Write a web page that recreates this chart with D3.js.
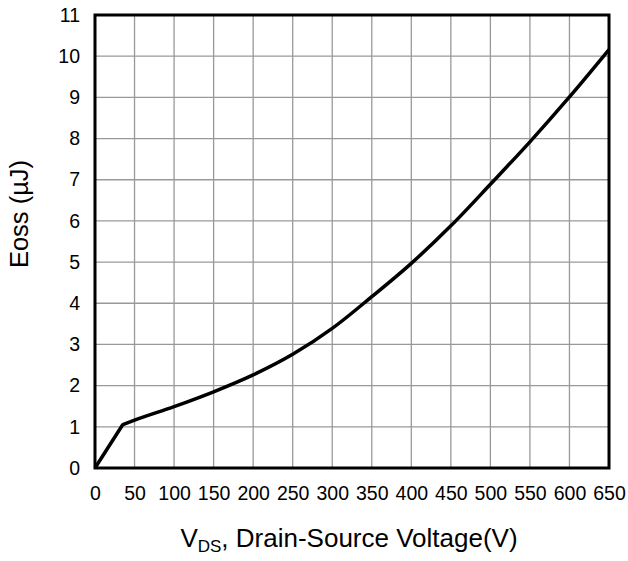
<!DOCTYPE html>
<html>
<head>
<meta charset="utf-8">
<script src="https://cdn.jsdelivr.net/npm/d3@7"></script>
<style>
  html, body { margin: 0; padding: 0; background: #fff; }
  svg { display: block; font-family: "Liberation Sans", Arial, sans-serif; }
</style>
</head>
<body>
<svg id="chart" width="628" height="561"></svg>
<script>
const voltage = [0, 35, 50, 100, 150, 200, 250, 300, 350, 400, 450, 500, 550, 600, 650];
const eoss    = [0, 1.05, 1.16, 1.49, 1.85, 2.26, 2.76, 3.39, 4.16, 4.97, 5.88, 6.89, 7.92, 9.01, 10.16];
const xTicks = [0, 50, 100, 150, 200, 250, 300, 350, 400, 450, 500, 550, 600, 650];
const yTicks = [0, 1, 2, 3, 4, 5, 6, 7, 8, 9, 10, 11];

(function () {
const svg = d3.select("#chart");
const mL = 95, mR = 609, mT = 15, mB = 468;

const x = d3.scaleLinear().domain([0, 650]).range([mL, mR]);
const y = d3.scaleLinear().domain([0, 11]).range([mB, mT]);

// grid
const grid = svg.append("g").attr("stroke", "#999").attr("stroke-width", 1.3);
grid.selectAll("line.v").data(xTicks).join("line").attr("class", "v")
  .attr("x1", d => x(d)).attr("x2", d => x(d))
  .attr("y1", mT).attr("y2", mB);
grid.selectAll("line.h").data(yTicks).join("line").attr("class", "h")
  .attr("x1", mL).attr("x2", mR)
  .attr("y1", d => y(d)).attr("y2", d => y(d));

// curve: straight rise to the knee, smooth afterwards
const pts = voltage.map((v, i) => [v, eoss[i]]);
const lin = d3.line().x(d => x(d[0])).y(d => y(d[1]));
const smooth = d3.line().x(d => x(d[0])).y(d => y(d[1])).curve(d3.curveMonotoneX);
const dPath = lin(pts.slice(0, 2)) + smooth(pts.slice(1)).replace(/^M/, "L");
svg.append("path")
  .attr("fill", "none")
  .attr("stroke", "#000")
  .attr("stroke-width", 3.5)
  .attr("stroke-linejoin", "round")
  .attr("d", dPath);

// frame
svg.append("rect")
  .attr("x", mL).attr("y", mT)
  .attr("width", mR - mL).attr("height", mB - mT)
  .attr("fill", "none").attr("stroke", "#000").attr("stroke-width", 3);

// axes (labels only)
const xAxis = svg.append("g").attr("transform", `translate(0,${mB})`)
  .call(d3.axisBottom(x).tickValues(xTicks).tickSize(0).tickPadding(18));
xAxis.select(".domain").remove();
xAxis.selectAll("text").attr("font-size", 19.5).attr("fill", "#000")
  .attr("font-family", "Liberation Sans, Arial, sans-serif");

const yAxis = svg.append("g").attr("transform", `translate(${mL},0)`)
  .call(d3.axisLeft(y).tickValues(yTicks).tickSize(0).tickPadding(15));
yAxis.select(".domain").remove();
yAxis.selectAll("text").attr("font-size", 19.5).attr("fill", "#000")
  .attr("font-family", "Liberation Sans, Arial, sans-serif");

// x title
const xt = svg.append("text")
  .attr("x", 349).attr("y", 547)
  .attr("text-anchor", "middle")
  .attr("font-size", 26).attr("fill", "#000");
xt.append("tspan").text("V");
xt.append("tspan").attr("font-size", 17).attr("dy", 5).text("DS");
xt.append("tspan").attr("dy", -5).text(", Drain-Source Voltage(V)");

// y title
svg.append("text")
  .attr("transform", `translate(28,214) rotate(-90)`)
  .attr("text-anchor", "middle")
  .attr("font-size", 25.5).attr("fill", "#000")
  .text("Eoss (µJ)");
})();
</script>
</body>
</html>
